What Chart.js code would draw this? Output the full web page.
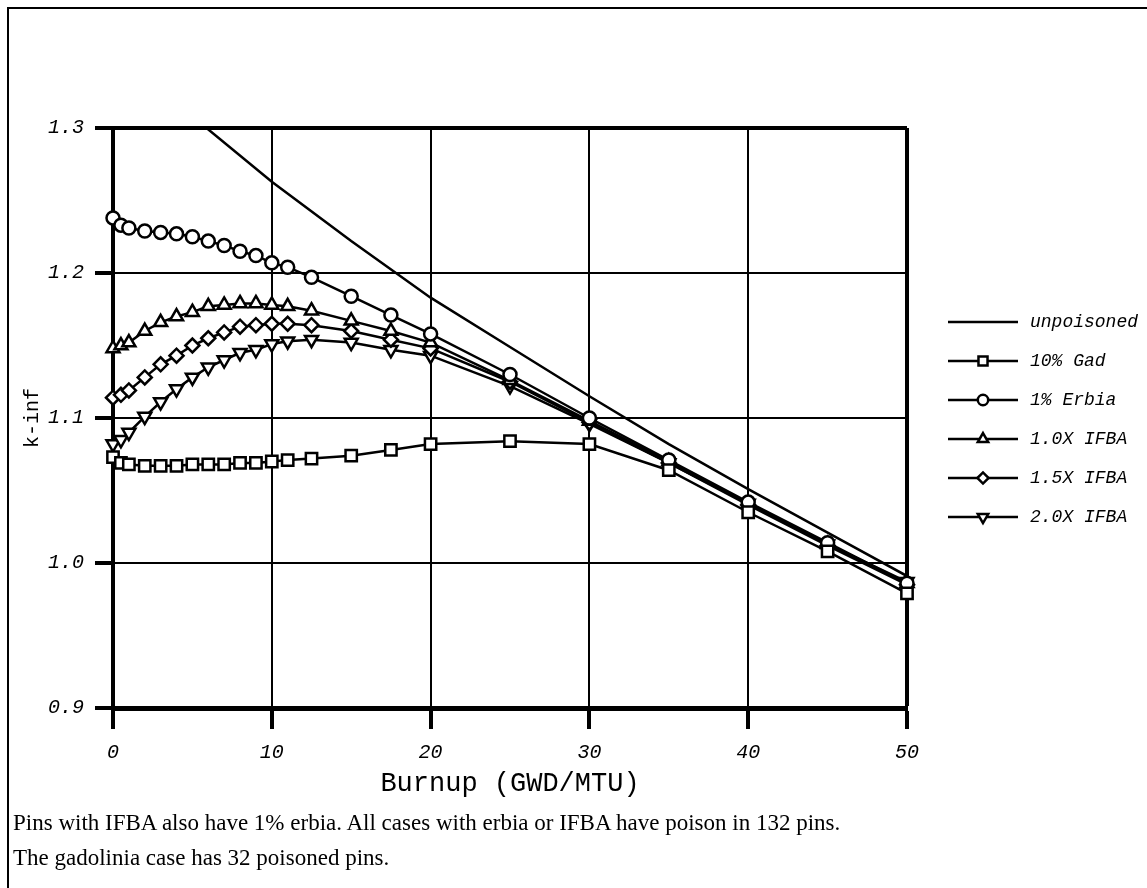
<!DOCTYPE html>
<html>
<head>
<meta charset="utf-8">
<title>k-inf vs burnup</title>
<script src="https://cdn.jsdelivr.net/npm/chart.js@4.4.1/dist/chart.umd.min.js"></script>
<style>
  html, body { margin: 0; padding: 0; background: #fff; overflow: hidden; width: 1147px; height: 888px; }
  .frame { position: absolute; left: 7px; top: 7px; width: 1160px; height: 900px; border-top: 2px solid #000; border-left: 2px solid #000; }
  canvas { position: absolute; left: 0; top: 0; }
  .note { position: absolute; left: 13px; font-family: 'Liberation Serif', serif; font-size: 23px; line-height: 27px; color: #000; white-space: nowrap; }
</style>
</head>
<body>
<div class="frame"></div>
<canvas id="myChart" width="1147" height="888"></canvas>
<div class="note" style="top: 809px">Pins with IFBA also have 1% erbia. All cases with erbia or IFBA have poison in 132 pins.</div>
<div class="note" style="top: 844px">The gadolinia case has 32 poisoned pins.</div>
<script>
const burnup = [0, 0.5, 1, 2, 3, 4, 5, 6, 7, 8, 9, 10, 11, 12.5, 15, 17.5, 20, 25, 30, 35, 40, 45, 50];
const unpoisonedBurnup = [0, 5, 10, 15, 20, 25, 30, 35, 40, 45, 50];
const unpoisoned = [1.360, 1.308, 1.263, 1.222, 1.183, 1.149, 1.115, 1.082, 1.051, 1.021, 0.991];
const gad10 = [1.073, 1.069, 1.068, 1.067, 1.067, 1.067, 1.068, 1.068, 1.068, 1.069, 1.069, 1.070, 1.071, 1.072, 1.074, 1.078, 1.082, 1.084, 1.082, 1.064, 1.035, 1.008, 0.979];
const erbia1 = [1.238, 1.233, 1.231, 1.229, 1.228, 1.227, 1.225, 1.222, 1.219, 1.215, 1.212, 1.207, 1.204, 1.197, 1.184, 1.171, 1.158, 1.130, 1.100, 1.071, 1.042, 1.014, 0.986];
const ifba10 = [1.148, 1.150, 1.152, 1.160, 1.166, 1.170, 1.173, 1.177, 1.178, 1.179, 1.179, 1.178, 1.177, 1.174, 1.167, 1.160, 1.152, 1.126, 1.098, 1.070, 1.041, 1.013, 0.986];
const ifba15 = [1.114, 1.116, 1.119, 1.128, 1.137, 1.143, 1.150, 1.155, 1.159, 1.163, 1.164, 1.165, 1.165, 1.164, 1.160, 1.154, 1.148, 1.125, 1.097, 1.069, 1.040, 1.012, 0.985];
const ifba20 = [1.082, 1.085, 1.090, 1.101, 1.111, 1.120, 1.128, 1.135, 1.140, 1.145, 1.147, 1.151, 1.153, 1.154, 1.152, 1.147, 1.143, 1.122, 1.096, 1.069, 1.041, 1.013, 0.987];
const xTicks = [0, 10, 20, 30, 40, 50];
const yTicks = [0.9, 1.0, 1.1, 1.2, 1.3];

const mono = '"Liberation Mono", "Courier New", monospace';

function pts(xs, ys) {
    return xs.map((x, i) => ({ x: x, y: ys[i] }));
}

function series(label, xs, ys, style, radius, rotation) {
    return {
        label: label,
        data: pts(xs, ys),
        borderColor: '#000',
        borderWidth: 2.5,
        pointStyle: style,
        pointRadius: radius,
        pointHoverRadius: radius,
        pointRotation: rotation || 0,
        pointBorderWidth: 2.5,
        pointBorderColor: '#000',
        pointBackgroundColor: '#fff',
        tension: 0,
        clip: radius > 0 ? false : undefined
    };
}

// legend with a short line and the marker on it
const lineLegend = {
    id: 'lineLegend',
    afterDraw(chart) {
        const ctx = chart.ctx;
        ctx.save();
        chart.data.datasets.forEach((ds, i) => {
            const y = 322 + i * 39;
            ctx.strokeStyle = '#000';
            ctx.lineWidth = 2.5;
            ctx.beginPath();
            ctx.moveTo(948, y);
            ctx.lineTo(1018, y);
            ctx.stroke();
            if (ds.pointRadius > 0) {
                ctx.fillStyle = '#fff';
                ctx.lineWidth = 2.5;
                Chart.helpers.drawPoint(ctx, {
                    pointStyle: ds.pointStyle,
                    rotation: ds.pointRotation,
                    radius: ds.pointRadius * 0.8,
                    borderWidth: 2.5
                }, 983, y);
            }
            ctx.fillStyle = '#000';
            ctx.font = 'italic 18px ' + mono;
            ctx.textBaseline = 'middle';
            ctx.textAlign = 'left';
            ctx.fillText(ds.label, 1030, y);
        });
        ctx.restore();
    }
};

new Chart(document.getElementById('myChart'), {
    type: 'line',
    data: {
        datasets: [
            series('unpoisoned', unpoisonedBurnup, unpoisoned, 'circle', 0),
            series('10% Gad', burnup, gad10, 'rect', 8),
            series('1% Erbia', burnup, erbia1, 'circle', 6.5),
            series('1.0X IFBA', burnup, ifba10, 'triangle', 7.5),
            series('1.5X IFBA', burnup, ifba15, 'rectRot', 7),
            series('2.0X IFBA', burnup, ifba20, 'triangle', 7.5, 180)
        ]
    },
    options: {
        responsive: false,
        animation: false,
        layout: { padding: { left: 0, top: 128, right: 240, bottom: 88 } },
        plugins: {
            legend: { display: false },
            tooltip: { enabled: false }
        },
        scales: {
            x: {
                type: 'linear',
                min: 0,
                max: 50,
                afterFit(scale) { scale.height = 92; },
                afterBuildTicks(scale) { scale.ticks = xTicks.map(v => ({ value: v })); },
                ticks: {
                    color: '#000',
                    padding: 12,
                    maxRotation: 0,
                    autoSkip: false,
                    font: { family: mono, size: 20, style: 'italic' },
                    callback: v => String(v)
                },
                grid: {
                    color: '#000',
                    lineWidth: c => (c.tick && c.tick.value === 50 ? 4 : 2),
                    tickLength: 21,
                    tickWidth: 4,
                    tickColor: '#000'
                },
                border: { color: '#000', width: 5 },
                title: {
                    display: true,
                    text: 'Burnup (GWD/MTU)',
                    color: '#000',
                    font: { family: mono, size: 27 },
                    padding: { top: 0, bottom: 0 }
                }
            },
            y: {
                min: 0.9,
                max: 1.3,
                afterFit(scale) { scale.width = 113; },
                afterBuildTicks(scale) { scale.ticks = yTicks.map(v => ({ value: v })); },
                ticks: {
                    color: '#000',
                    padding: 11,
                    font: { family: mono, size: 20, style: 'italic' },
                    callback: v => Number(v).toFixed(1)
                },
                grid: {
                    color: '#000',
                    lineWidth: c => (c.tick && Math.abs(c.tick.value - 1.3) < 1e-6 ? 4 : 2),
                    tickLength: 18,
                    tickWidth: 4,
                    tickColor: '#000'
                },
                border: { color: '#000', width: 4 },
                title: {
                    display: true,
                    text: 'k-inf',
                    color: '#000',
                    font: { family: mono, size: 20 },
                    padding: { top: 21, bottom: 0 }
                }
            }
        }
    },
    plugins: [lineLegend]
});
</script>
</body>
</html>
